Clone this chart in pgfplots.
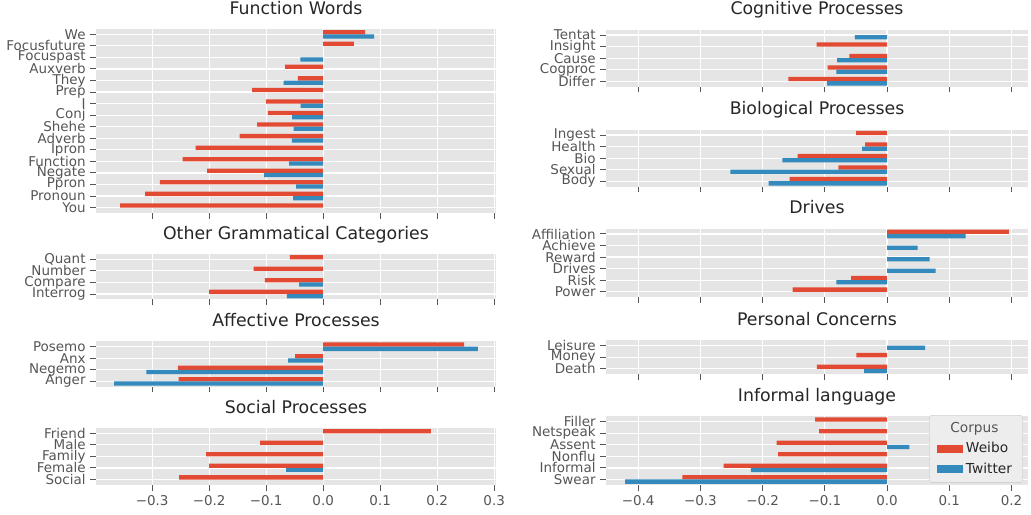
\documentclass[border=0pt]{standalone}
\usepackage{fontspec}
\setmainfont{DejaVu Sans}
\usepackage{pgfplots}
\pgfplotsset{compat=1.18}

\definecolor{wred}{HTML}{E24A33}
\definecolor{tblue}{HTML}{348ABD}
\definecolor{bgc}{HTML}{E5E5E5}
\definecolor{tickc}{HTML}{555555}
\definecolor{titlec}{HTML}{262626}

\pgfplotsset{
  panel/.style={
    scale only axis, xbar, y dir=reverse,
    anchor=north west,
    bar width=0.37,
    axis background/.style={fill=bgc},
    axis line style={draw=none},
    grid=major,
    major grid style={white, line width=0.9pt},
    tick align=outside, major tick length=4.3pt,
    tick pos=left,
    tick style={color=tickc, line width=0.75pt},
    ticklabel style={font=\fontsize{10.1}{11}\selectfont, text=tickc},
    yticklabel style={inner ysep=0pt},
    title style={font=\fontsize{13}{14}\selectfont, text=titlec, anchor=base, yshift=5.25pt},
    xticklabel=\empty,
  },
  leftcol/.style={panel, width=300pt, xmin=-0.3986, xmax=0.3032,
    xtick={-0.3,-0.2,-0.1,0,0.1,0.2,0.3}},
  rightcol/.style={panel, width=316.5pt, xmin=-0.4517, xmax=0.2265,
    xtick={-0.4,-0.3,-0.2,-0.1,0,0.1,0.2}},
  ncat/.style={ymin=-0.46, ymax=#1-0.54},
  weibo/.style={fill=wred, draw=none, bar shift=-0.185},
  twitter/.style={fill=tblue, draw=none, bar shift=0.185},
}

\begin{document}
\begin{tikzpicture}
\path[use as bounding box] (0,0) rectangle (773.25pt,-385.5pt);

% ---------------- left column ----------------
\begin{axis}[leftcol, at={(72pt,-21.75pt)}, height=137.9pt, ncat=16,
  title={Function Words}, ytick={0,...,15},
  yticklabels={We,Focusfuture,Focuspast,Auxverb,They,Prep,I,Conj,Shehe,Adverb,Ipron,Function,Negate,Ppron,Pronoun,You}]
\addplot[weibo] coordinates {(0.0737,0) (0.054,1) (-0.0667,3) (-0.0444,4) (-0.1246,5) (-0.100,6) (-0.0971,7) (-0.1158,8) (-0.1468,9) (-0.224,10) (-0.2468,11) (-0.2035,12) (-0.2865,13) (-0.3123,14) (-0.3561,15)};
\addplot[twitter] coordinates {(0.0895,0) (-0.040,2) (-0.0696,4) (-0.0398,6) (-0.0544,7) (-0.052,8) (-0.055,9) (-0.0596,11) (-0.1035,12) (-0.0474,13) (-0.0526,14)};
\end{axis}

\begin{axis}[leftcol, at={(72pt,-190.5pt)}, height=34pt, ncat=4,
  title={Other Grammatical Categories}, ytick={0,...,3},
  yticklabels={Quant,Number,Compare,Interrog}]
\addplot[weibo] coordinates {(-0.0585,0) (-0.1222,1) (-0.1023,2) (-0.200,3)};
\addplot[twitter] coordinates {(-0.0421,2) (-0.0637,3)};
\end{axis}

\begin{axis}[leftcol, at={(72pt,-256.05pt)}, height=34pt, ncat=4,
  title={Affective Processes}, ytick={0,...,3},
  yticklabels={Posemo,Anx,Negemo,Anger}]
\addplot[weibo] coordinates {(0.2474,0) (-0.0491,1) (-0.255,2) (-0.2538,3)};
\addplot[twitter] coordinates {(0.2713,0) (-0.0614,1) (-0.310,2) (-0.3667,3)};
\end{axis}

\begin{axis}[leftcol, at={(72pt,-321pt)}, height=42.6pt, ncat=5,
  title={Social Processes}, ytick={0,...,4},
  yticklabels={Friend,Male,Family,Female,Social},
  xticklabels={−0.3,−0.2,−0.1,0.0,0.1,0.2,0.3}]
\addplot[weibo] coordinates {(0.1889,0) (-0.1105,1) (-0.2053,2) (-0.200,3) (-0.2526,4)};
\addplot[twitter] coordinates {(-0.0649,3)};
\end{axis}

% ---------------- right column ----------------
\begin{axis}[rightcol, at={(454.5pt,-22.3pt)}, height=42.6pt, ncat=5,
  title={Cognitive Processes}, ytick={0,...,4},
  yticklabels={Tentat,Insight,Cause,Cogproc,Differ}]
\addplot[weibo] coordinates {(-0.1134,1) (-0.0604,2) (-0.0957,3) (-0.1588,4)};
\addplot[twitter] coordinates {(-0.0519,0) (-0.0802,2) (-0.0813,3) (-0.0963,4)};
\end{axis}

\begin{axis}[rightcol, at={(454.5pt,-97.3pt)}, height=42.6pt, ncat=5,
  title={Biological Processes}, ytick={0,...,4},
  yticklabels={Ingest,Health,Bio,Sexual,Body}]
\addplot[weibo] coordinates {(-0.0497,0) (-0.0353,1) (-0.1439,2) (-0.0781,3) (-0.1567,4)};
\addplot[twitter] coordinates {(-0.0401,1) (-0.1684,2) (-0.2519,3) (-0.1904,4)};
\end{axis}

\begin{axis}[rightcol, at={(454.5pt,-171.5pt)}, height=51.3pt, ncat=6,
  title={Drives}, ytick={0,...,5},
  yticklabels={Affiliation,Achieve,Reward,Drives,Risk,Power}]
\addplot[weibo] coordinates {(0.1957,0) (-0.0578,4) (-0.1519,5)};
\addplot[twitter] coordinates {(0.1262,0) (0.0492,1) (0.0684,2) (0.0781,3) (-0.0813,4)};
\end{axis}

\begin{axis}[rightcol, at={(454.5pt,-255.3pt)}, height=25.3pt, ncat=3,
  title={Personal Concerns}, ytick={0,...,2},
  yticklabels={Leisure,Money,Death}]
\addplot[weibo] coordinates {(-0.0492,1) (-0.1128,2)};
\addplot[twitter] coordinates {(0.061,0) (-0.0369,2)};
\end{axis}

\begin{axis}[rightcol, at={(454.5pt,-312.3pt)}, height=51.3pt, ncat=6,
  title={Informal language}, ytick={0,...,5},
  yticklabels={Filler,Netspeak,Assent,Nonflu,Informal,Swear},
  xticklabels={−0.4,−0.3,−0.2,−0.1,0.0,0.1,0.2},
  legend style={at={(rel axis cs:0.988,0.03)}, anchor=south east,
    fill=bgc!70!white, draw=black!18, rounded corners=2pt,
    font=\fontsize{10.3}{11}\selectfont, text=titlec,
    row sep=1.8pt, inner xsep=6pt, inner ysep=3.5pt},
  legend cell align=left]
\addlegendimage{empty legend}
\addlegendentry{\hspace*{-11.75pt}\textcolor{tickc}{Corpus}}
\addplot[weibo, legend image code/.code={\fill[wred, sharp corners] (0pt,-3pt) rectangle (19.5pt,3pt);}] coordinates {(-0.1155,0) (-0.1091,1) (-0.1775,2) (-0.1749,3) (-0.2626,4) (-0.3289,5)};
\addlegendentry{Weibo}
\addplot[twitter, legend image code/.code={\fill[tblue, sharp corners] (0pt,-3pt) rectangle (19.5pt,3pt);}] coordinates {(0.0358,2) (-0.2187,4) (-0.4209,5)};
\addlegendentry{Twitter}
\end{axis}
\end{tikzpicture}
\end{document}
